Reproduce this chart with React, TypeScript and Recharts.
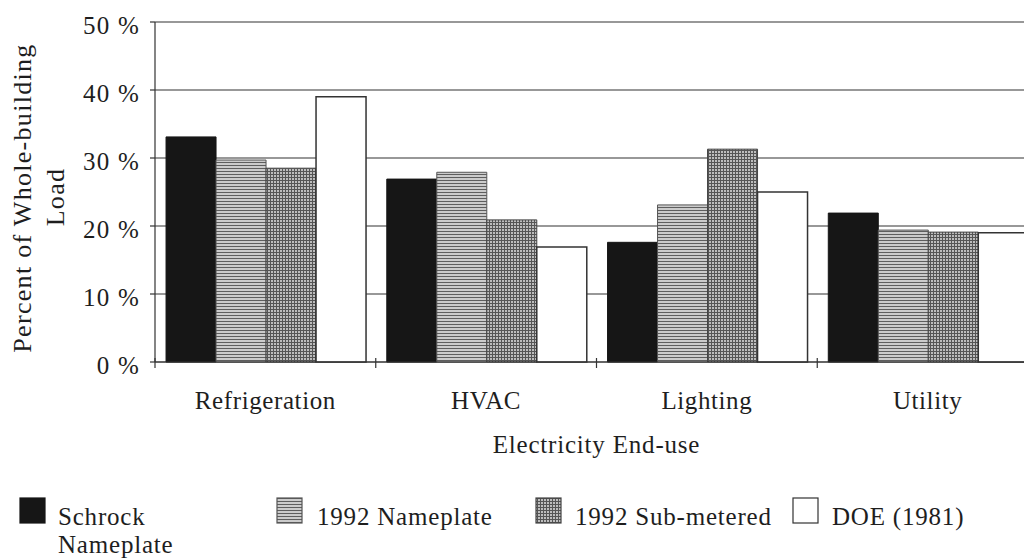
import React from 'react';
import { BarChart, Bar, XAxis, YAxis, CartesianGrid } from 'recharts';

const categories = ['Refrigeration', 'HVAC', 'Lighting', 'Utility'];
const schrock = [33.1, 26.9, 17.6, 21.9];
const nameplate1992 = [29.7, 27.9, 23.1, 19.4];
const submetered1992 = [28.5, 20.9, 31.3, 19.1];
const doe1981 = [39.0, 16.9, 25.0, 19.0];
const yTicks = [0, 10, 20, 30, 40, 50];

const seriesKeys = ['schrock', 'nameplate', 'submetered', 'doe'];
const seriesNames = ['Schrock|Nameplate', '1992 Nameplate', '1992 Sub-metered', 'DOE (1981)'];

const data = categories.map((c, i) => ({
  name: c,
  schrock: schrock[i],
  nameplate: nameplate1992[i],
  submetered: submetered1992[i],
  doe: doe1981[i],
}));

const FONT = '"Liberation Serif", "Times New Roman", serif';
const INK = '#1e1e1e';

const fills: Record<string, string> = {
  schrock: '#161616',
  nameplate: 'url(#patNameplate)',
  submetered: 'url(#patSub)',
  doe: '#ffffff',
};
const strokes: Record<string, string> = {
  schrock: '#161616',
  nameplate: '#555',
  submetered: '#444',
  doe: '#333',
};

const PatternDefs = ({ suffix }: { suffix: string }) => (
  <defs>
    <pattern id={'patNameplate' + suffix} width="4" height="3" patternUnits="userSpaceOnUse">
      <rect x="0" y="0" width="4" height="3" fill="#cbcbcb" />
      <rect x="0" y="0" width="4" height="1" fill="#5e5e5e" />
    </pattern>
    <pattern id={'patSub' + suffix} width="3" height="3" patternUnits="userSpaceOnUse">
      <rect x="0" y="0" width="3" height="3" fill="#bdbdbd" />
      <rect x="0" y="0" width="3" height="1" fill="#555555" />
      <rect x="0" y="0" width="1" height="3" fill="#555555" />
    </pattern>
  </defs>
);

const XTick = (props: any) => {
  const { x, y, payload } = props;
  const axisY = y - 8;
  const off = payload.offset || 0;
  return (
    <g>
      <line x1={x - off} x2={x - off} y1={axisY - 4} y2={axisY + 6} stroke="#333" strokeWidth={1.2} />
      <text
        x={x}
        y={axisY + 47}
        textAnchor="middle"
        fontFamily={FONT}
        fontSize={25}
        letterSpacing={0.6}
        fill={INK}
      >
        {payload.value}
      </text>
    </g>
  );
};

const YTick = (props: any) => {
  const { x, y, payload } = props;
  return (
    <text x={x} y={y + 12} textAnchor="end" fontFamily={FONT} fontSize={25} letterSpacing={1.2} fill={INK}>
      {`${payload.value} %`}
    </text>
  );
};

const YLabel = () => (
  <g>
    <text
      x={31}
      y={198}
      transform="rotate(-90, 31, 198)"
      textAnchor="middle"
      fontFamily={FONT}
      fontSize={26}
      letterSpacing={1.3}
      fill={INK}
    >
      Percent of Whole-building
    </text>
    <text
      x={64}
      y={197}
      transform="rotate(-90, 64, 197)"
      textAnchor="middle"
      fontFamily={FONT}
      fontSize={26}
      letterSpacing={1.3}
      fill={INK}
    >
      Load
    </text>
  </g>
);

const XLabel = (props: any) => {
  const vb = props.viewBox || {};
  const cx = (vb.x || 0) + (vb.width || 0) / 2;
  return (
    <text x={cx} y={453} textAnchor="middle" fontFamily={FONT} fontSize={25} letterSpacing={0.8} fill={INK}>
      Electricity End-use
    </text>
  );
};

const legendIconX = [20, 277, 536, 793];
const legendTextX = [58, 317, 575, 832];

const Legend = () => (
  <svg width={1024} height={559} style={{ position: 'absolute', left: 0, top: 0, pointerEvents: 'none' }}>
    <PatternDefs suffix="L" />
    {seriesKeys.map((k, i) => {
      const fill = fills[k].startsWith('url') ? fills[k].replace(')', 'L)') : fills[k];
      const lines = seriesNames[i].split('|');
      return (
        <g key={k}>
          <rect x={legendIconX[i]} y={498} width={25} height={25} fill={fill} stroke={strokes[k]} strokeWidth={1.2} />
          {lines.map((ln, j) => (
            <text
              key={j}
              x={legendTextX[i]}
              y={525 + j * 28}
              fontFamily={FONT}
              fontSize={25}
              letterSpacing={0.8}
              fill={INK}
            >
              {ln}
            </text>
          ))}
        </g>
      );
    })}
  </svg>
);

export default function App() {
  return (
    <div
      style={{
        position: 'absolute',
        left: 0,
        top: 0,
        width: 1024,
        height: 559,
        overflow: 'hidden',
        background: '#fff',
      }}
    >
      <BarChart
        width={1060}
        height={559}
        data={data}
        margin={{ top: 22, right: 22, left: 0, bottom: 137 }}
        barCategoryGap="5%"
        barGap={0}
      >
        <PatternDefs suffix="" />
        <CartesianGrid horizontal vertical={false} stroke="#333" strokeWidth={1.2} />
        <XAxis
          dataKey="name"
          height={60}
          axisLine={{ stroke: '#333', strokeWidth: 1.2 }}
          tickLine={false}
          tickSize={6}
          tickMargin={2}
          tick={<XTick />}
          interval={0}
          label={<XLabel />}
        />
        <YAxis
          width={155}
          domain={[0, 50]}
          ticks={yTicks}
          interval={0}
          axisLine={{ stroke: '#333', strokeWidth: 1.2 }}
          tickLine={{ stroke: '#333', strokeWidth: 1.2 }}
          tickSize={5}
          tickMargin={10}
          tick={<YTick />}
          label={<YLabel />}
        />
        {seriesKeys.map((k) => (
          <Bar
            key={k}
            dataKey={k}
            fill={fills[k]}
            stroke={strokes[k]}
            strokeWidth={k === 'doe' ? 1.5 : 1}
            isAnimationActive={false}
          />
        ))}
      </BarChart>
      <Legend />
    </div>
  );
}
